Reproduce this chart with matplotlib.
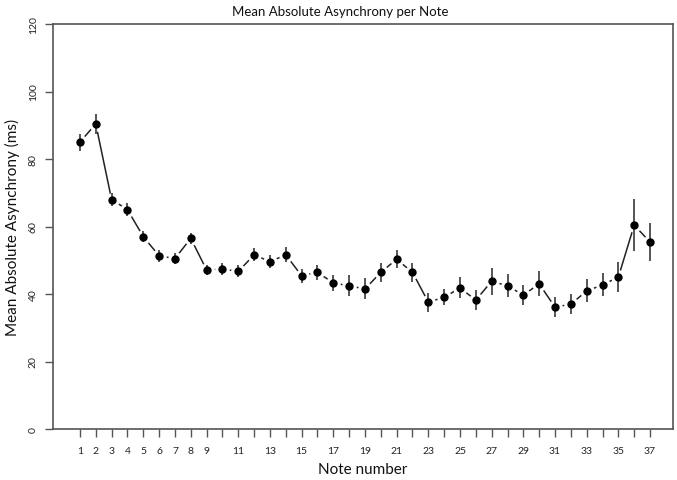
import matplotlib
matplotlib.use('Agg')
import matplotlib.pyplot as plt
import numpy as np

plt.rcParams['font.family'] = ['Lato', 'DejaVu Sans']

notes = list(range(1, 38))
mean_async = [85.0, 90.4, 68.0, 65.0, 57.0, 51.3, 50.5, 56.5, 47.1, 47.4,
              46.7, 51.6, 49.6, 51.6, 45.4, 46.4, 43.3, 42.4, 41.5, 46.4,
              50.3, 46.4, 37.6, 39.0, 41.8, 38.2, 43.8, 42.4, 39.7, 43.0,
              36.1, 37.0, 40.9, 42.7, 45.0, 60.4, 55.4]
err = [2.5, 3.0, 2.0, 2.0, 1.6, 1.7, 1.7, 1.7, 1.5, 1.8,
       1.8, 1.9, 2.0, 2.2, 2.1, 2.2, 2.4, 3.1, 3.1, 2.8,
       2.7, 2.8, 2.8, 2.4, 3.1, 3.0, 4.0, 3.4, 3.0, 3.7,
       3.0, 3.0, 3.4, 3.4, 4.4, 7.8, 5.6]
tick_labels = [str(n) if (n < 10 or n % 2 == 1) else '' for n in notes]

fig = plt.figure(figsize=(6.77, 4.81), dpi=100)
ax = fig.add_axes([53/677, 1 - 430/481, 620/677, 405/481])

# line with gaps round the points (R type="b" look)
ax.plot(notes, mean_async, color='#222222', lw=1.1, zorder=1)
ax.plot(notes, mean_async, 'o', color='white', ms=9.5, zorder=2)
ax.errorbar(notes, mean_async, yerr=err, fmt='none', ecolor='#555555',
            elinewidth=1.4, capsize=0, zorder=3)
ax.plot(notes, mean_async, 'o', color='black', ms=5, zorder=4)

ax.set_xlim(-0.7, 38.45)
ax.set_ylim(0, 120)
ax.set_xticks(notes)
ax.set_xticklabels(tick_labels)
ax.set_yticks(range(0, 121, 20))
ax.set_yticklabels([str(v) for v in range(0, 121, 20)], rotation=90, va='center')

for s in ax.spines.values():
    s.set_color('#555555')
    s.set_linewidth(1.2)
ax.tick_params(axis='both', colors='#555555', labelcolor='#222222',
               labelsize=7.5, length=6, width=1.0)
ax.tick_params(axis='x', pad=6)
ax.tick_params(axis='y', pad=5)

ax.set_xlabel('Note number', fontsize=11, color='#111111', labelpad=5)
ax.set_ylabel('Mean Absolute Asynchrony (ms)', fontsize=11, color='#111111', labelpad=6)
fig.text(340/677, 1 - 12/481, 'Mean Absolute Asynchrony per Note',
         ha='center', va='center', fontsize=9.5, color='#111111')

fig.savefig('out.png', dpi=100)
